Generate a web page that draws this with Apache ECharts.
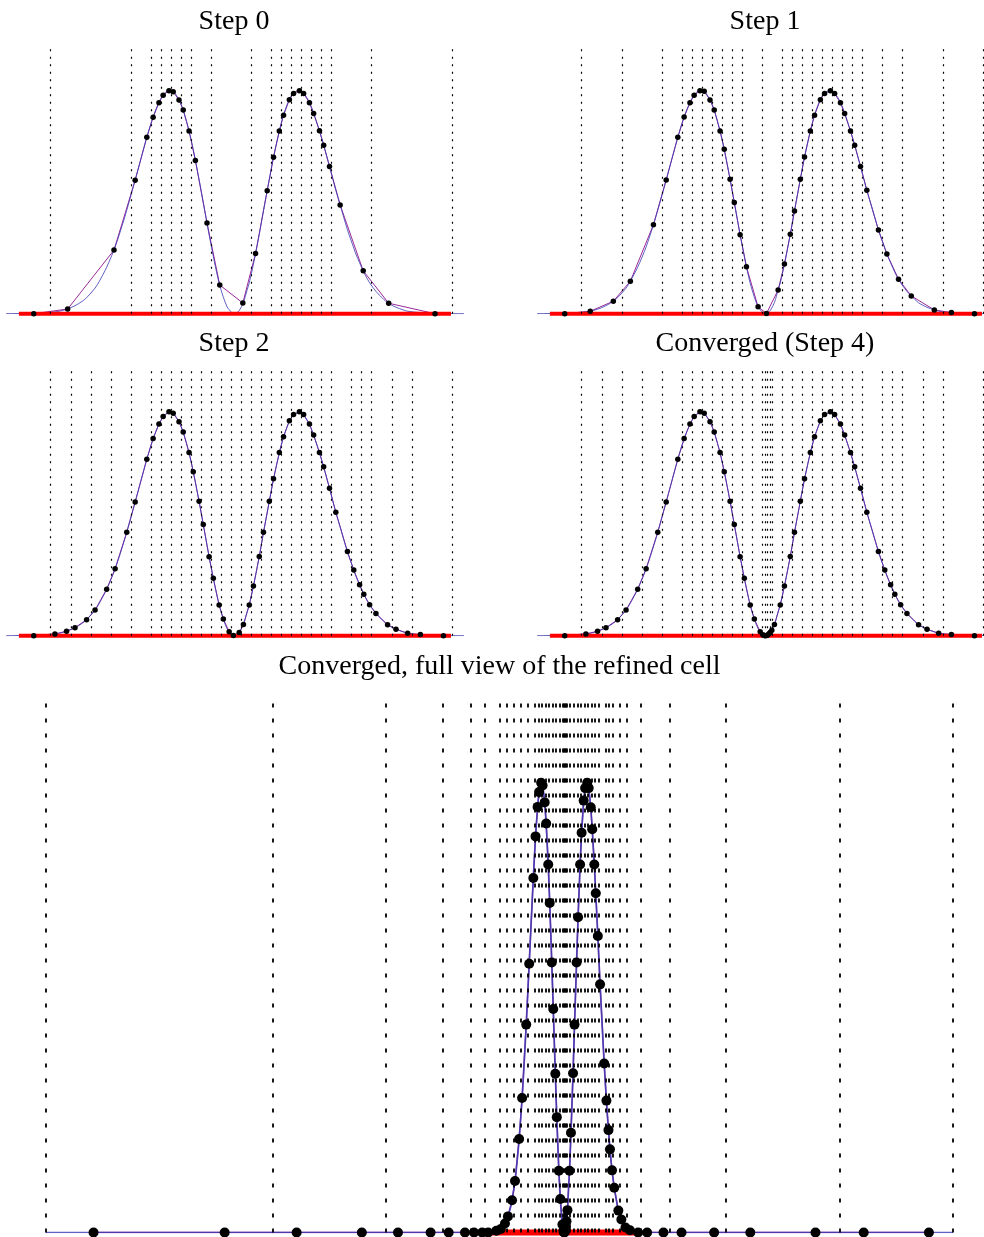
<!DOCTYPE html>
<html>
<head>
<meta charset="utf-8">
<script src="https://cdn.jsdelivr.net/npm/echarts@6/dist/echarts.min.js"></script>
<style>
html,body{margin:0;padding:0;background:#fff;}
#c{width:984px;height:1237px;}
</style>
</head>
<body>
<div id="c"></div>
<script>
// ---------------- data ----------------
// titles
const TITLES = ['Step 0', 'Step 1', 'Step 2', 'Converged (Step 4)', 'Converged, full view of the refined cell'];

// extent of the refined cell (red segment on the baseline)
const RED_SPAN = [-3.17, 39.9];

// "true" function (blue curve)
const TRUE_X = [-128, -8, -4.4, -3.15, -1.69, -0.85, 0.42, 0.85, 1.58, 2.42, 3.15, 3.58, 4.42, 4.85, 5.58, 6.42, 7.15, 7.58, 8.42, 9.58,
  10.21, 10.79, 11.21, 11.79, 12.21, 12.79, 13.21, 13.79, 14.21, 14.79, 15.21, 15.79, 16.21, 16.42, 16.79, 17.21, 17.58, 17.79,
  18.05, 18.3, 18.55, 18.79, 19.21, 19.58, 19.79, 20.21, 20.79, 21.21, 21.79, 22.21, 22.79, 23.21, 23.79, 24.21, 24.79, 25.21,
  25.79, 26.21, 26.79, 27.21, 27.79, 28.42, 28.85, 29.58, 30.21, 30.42, 30.79, 31.21, 31.58, 31.79, 32.42, 32.85, 33.58, 34.42,
  35.15, 35.58, 36.85, 39.15, 41.1, 48, 128];
const TRUE_Y = [0, 0, 0, 0.001, 0.002, 0.004, 0.008, 0.011, 0.020, 0.036, 0.056, 0.072, 0.115, 0.146, 0.209, 0.300, 0.400, 0.465, 0.601, 0.793,
  0.885, 0.950, 0.984, 1.004, 1.000, 0.961, 0.915, 0.822, 0.738, 0.604, 0.500, 0.355, 0.258, 0.211, 0.138, 0.074, 0.031, 0.018,
  0.005, 0.000, 0.004, 0.014, 0.050, 0.107, 0.138, 0.223, 0.356, 0.463, 0.604, 0.704, 0.822, 0.893, 0.964, 0.992, 1.004, 0.992,
  0.950, 0.901, 0.822, 0.758, 0.662, 0.555, 0.489, 0.377, 0.295, 0.268, 0.229, 0.186, 0.155, 0.139, 0.100, 0.080, 0.049, 0.029,
  0.017, 0.011, 0.005, 0.001, 0, 0, 0];

// Step 0
const S0_LINES = [0, 8, 10, 11, 12, 13, 14, 16, 20, 22, 23, 24, 25, 26, 27, 28, 32, 40];
const S0_X = [-1.69, 1.69, 6.31, 8.42, 9.58, 10.21, 10.79, 11.21, 11.79, 12.21, 12.79, 13.21, 13.79, 14.42, 15.58, 16.85, 19.15,
  20.42, 21.58, 22.21, 22.79, 23.21, 23.79, 24.21, 24.79, 25.21, 25.79, 26.21, 26.79, 27.21, 27.79, 28.85, 31.15, 33.69, 38.31];
const S0_Y = [0.0, 0.021, 0.286, 0.600, 0.793, 0.883, 0.948, 0.982, 1.002, 0.998, 0.960, 0.916, 0.821, 0.689, 0.408, 0.129, 0.048,
  0.271, 0.553, 0.703, 0.821, 0.892, 0.962, 0.990, 1.002, 0.990, 0.948, 0.900, 0.822, 0.757, 0.662, 0.489, 0.193, 0.047, 0.0];

// Step 1
const S1_LINES = [0, 4, 8, 10, 11, 12, 13, 14, 15, 16, 18, 20, 21, 22, 23, 24, 25, 26, 27, 28, 30, 32, 36, 40];
const S1_X = [-1.69, 0.85, 3.15, 4.85, 7.15, 8.42, 9.58, 10.21, 10.79, 11.21, 11.79, 12.21, 12.79, 13.21, 13.79, 14.21, 14.79,
  15.21, 15.79, 16.42, 17.58, 18.42, 19.58, 20.21, 20.79, 21.21, 21.79, 22.21, 22.79, 23.21, 23.79, 24.21, 24.79, 25.21, 25.79,
  26.21, 26.79, 27.21, 27.79, 28.42, 29.58, 30.42, 31.58, 32.85, 35.15, 36.85, 39.15];
const S1_Y = [0.0, 0.011, 0.056, 0.146, 0.400, 0.601, 0.793, 0.884, 0.948, 0.982, 1.002, 1.000, 0.961, 0.916, 0.821, 0.739, 0.604,
  0.500, 0.355, 0.211, 0.031, 0.001, 0.107, 0.223, 0.357, 0.462, 0.604, 0.704, 0.821, 0.892, 0.962, 0.990, 1.002, 0.990, 0.948,
  0.900, 0.821, 0.757, 0.662, 0.555, 0.376, 0.268, 0.155, 0.080, 0.017, 0.005, 0.0];

// Step 2
const S2_LINES = [0, 2, 4, 6, 8, 10, 11, 12, 13, 14, 15, 16, 17, 18, 19, 20, 21, 22, 23, 24, 25, 26, 27, 28, 30, 31, 32, 34, 36, 40];
const S2_X = [-1.69, 0.42, 1.58, 2.42, 3.58, 4.42, 5.58, 6.42, 7.58, 8.42, 9.58, 10.21, 10.79, 11.21, 11.79, 12.21, 12.79, 13.21,
  13.79, 14.21, 14.79, 15.21, 15.79, 16.21, 16.79, 17.21, 17.79, 18.21, 18.79, 19.21, 19.79, 20.21, 20.79, 21.21, 21.79, 22.21,
  22.79, 23.21, 23.79, 24.21, 24.79, 25.21, 25.79, 26.21, 26.79, 27.21, 27.79, 28.42, 29.58, 30.21, 30.79, 31.21, 31.79, 32.42,
  33.58, 34.42, 35.58, 36.85, 39.15];
const S2_Y = [0.0, 0.008, 0.020, 0.036, 0.072, 0.115, 0.209, 0.301, 0.465, 0.601, 0.793, 0.886, 0.952, 0.985, 1.006, 1.000, 0.962,
  0.915, 0.823, 0.737, 0.604, 0.500, 0.355, 0.258, 0.138, 0.075, 0.018, 0.001, 0.014, 0.050, 0.138, 0.223, 0.356, 0.465, 0.604,
  0.705, 0.823, 0.894, 0.966, 0.994, 1.006, 0.994, 0.951, 0.902, 0.823, 0.759, 0.663, 0.555, 0.378, 0.295, 0.229, 0.186, 0.139,
  0.100, 0.049, 0.029, 0.011, 0.005, 0.0];

// Converged (Step 4)
const S4_LINES = [0, 2, 4, 6, 8, 10, 11, 12, 13, 14, 15, 16, 17, 18, 18.25, 18.5, 18.75, 19, 20, 21, 22, 23, 24, 25, 26, 27, 28,
  30, 31, 32, 34, 36, 40];
const S4_X = [-1.69, 0.42, 1.58, 2.42, 3.58, 4.42, 5.58, 6.42, 7.58, 8.42, 9.58, 10.21, 10.79, 11.21, 11.79, 12.21, 12.79, 13.21,
  13.79, 14.21, 14.79, 15.21, 15.79, 16.21, 16.79, 17.21, 17.79, 18.05, 18.20, 18.30, 18.45, 18.55, 18.70, 18.80, 18.95, 19.21,
  19.79, 20.21, 20.79, 21.21, 21.79, 22.21, 22.79, 23.21, 23.79, 24.21, 24.79, 25.21, 25.79, 26.21, 26.79, 27.21, 27.79, 28.42,
  29.58, 30.21, 30.79, 31.21, 31.79, 32.42, 33.58, 34.42, 35.58, 36.85, 39.15];
const S4_Y = [0.0, 0.008, 0.020, 0.036, 0.072, 0.115, 0.209, 0.301, 0.465, 0.601, 0.793, 0.886, 0.952, 0.985, 1.006, 1.000, 0.962,
  0.915, 0.823, 0.737, 0.604, 0.500, 0.355, 0.258, 0.138, 0.075, 0.018, 0.004, 0.001, 0.000, 0.001, 0.004, 0.010, 0.015, 0.025,
  0.050, 0.138, 0.223, 0.356, 0.465, 0.604, 0.705, 0.823, 0.894, 0.966, 0.994, 1.006, 0.994, 0.951, 0.902, 0.823, 0.759, 0.663,
  0.555, 0.378, 0.295, 0.229, 0.186, 0.139, 0.100, 0.049, 0.029, 0.011, 0.005, 0.0];

// Full view: outer coarse cells (left / right of the zoomed window)
const FULL_LINES_LEFT = [-128, -64, -32, -16, -8, -4];
const FULL_LINES_RIGHT = [48, 64, 96, 128];
const FULL_LEFT_X = [-114.5, -77.5, -57.2, -38.8, -28.6, -19.4, -14.3, -9.7, -7.15, -4.85, -3.15, -0.85];
const FULL_LEFT_Y = [0, 0, 0, 0, 0, 0, 0, 0, 0, 0, 0, 0.004];
const FULL_RIGHT_X = [41.69, 46.31, 51.4, 60.6, 70.8, 89.2, 102.8, 121.2];
const FULL_RIGHT_Y = [0, 0, 0, 0, 0, 0, 0, 0];

// ---------------- build the chart ----------------
const zip = (xs, ys) => xs.map((x, i) => [x, ys[i]]);
const TRUE_PTS = zip(TRUE_X, TRUE_Y);

const FULL_LINES = FULL_LINES_LEFT.concat(S4_LINES, FULL_LINES_RIGHT);
const FULL_X = FULL_LEFT_X.concat(S4_X.slice(1), FULL_RIGHT_X);
const FULL_Y = FULL_LEFT_Y.concat(S4_Y.slice(1), FULL_RIGHT_Y);

const TOP_STYLE = {dot: 5.5, blueW: 1, purpleW: 1, redW: 4, gridW: 1.2, dash: [2, 5.5]};
const BIG_STYLE = {dot: 10, blueW: 1.7, purpleW: 1.4, redW: 6, gridW: 1.8, dash: [4, 11]};

// right-hand panels are cut by the page edge (window ends at x = 40.1)
const PANELS = [
  {left: 7.06, top: 46.7, width: 455.96, height: 267, xmin: -4.35, xmax: 41.1, lines: S0_LINES, x: S0_X, y: S0_Y, st: TOP_STYLE,
    tx: 234, ty: 21.5, title: TITLES[0]},
  {left: 538.06, top: 46.7, width: 445.94, height: 267, xmin: -4.35, xmax: 40.1, lines: S1_LINES, x: S1_X, y: S1_Y, st: TOP_STYLE,
    tx: 765, ty: 21.5, title: TITLES[1]},
  {left: 7.06, top: 368.7, width: 455.96, height: 267, xmin: -4.35, xmax: 41.1, lines: S2_LINES, x: S2_X, y: S2_Y, st: TOP_STYLE,
    tx: 234, ty: 343.2, title: TITLES[2]},
  {left: 538.06, top: 368.7, width: 445.94, height: 267, xmin: -4.35, xmax: 40.1, lines: S4_LINES, x: S4_X, y: S4_Y, st: TOP_STYLE,
    tx: 765, ty: 343.2, title: TITLES[3]},
  {left: 45.7, top: 696, width: 907.3, height: 536.5, xmin: -128, xmax: 128, lines: FULL_LINES, x: FULL_X, y: FULL_Y, st: BIG_STYLE,
    tx: 499.5, ty: 666.5, title: TITLES[4]}
];

const grid = [], xAxis = [], yAxis = [], series = [], graphic = [];
PANELS.forEach((p, i) => {
  grid.push({left: p.left, top: p.top, width: p.width, height: p.height, containLabel: false, show: false});
  xAxis.push({type: 'value', gridIndex: i, min: p.xmin, max: p.xmax, show: false});
  yAxis.push({type: 'value', gridIndex: i, min: 0, max: 1.2, show: false});
  const st = p.st;
  // vertical dotted cell boundaries
  series.push({
    type: 'line', xAxisIndex: i, yAxisIndex: i, data: [], silent: true, z: 1,
    markLine: {
      silent: true, symbol: ['none', 'none'], label: {show: false}, animation: false,
      emphasis: {disabled: true},
      lineStyle: {color: '#000', width: st.gridW, type: st.dash, opacity: 1},
      data: p.lines.map(v => ({xAxis: v}))
    }
  });
  // interpolant through the sample points
  series.push({
    type: 'line', xAxisIndex: i, yAxisIndex: i, data: zip(p.x, p.y), showSymbol: false, z: 2,
    lineStyle: {color: '#9a2898', width: st.purpleW}, silent: true, clip: true
  });
  // true function
  series.push({
    type: 'line', xAxisIndex: i, yAxisIndex: i, data: TRUE_PTS, showSymbol: false, smooth: 0.3, z: 3,
    lineStyle: {color: '#3a3ab4', width: st.blueW, opacity: 0.8}, silent: true, clip: true
  });
  // refined cell
  series.push({
    type: 'line', xAxisIndex: i, yAxisIndex: i, data: [[RED_SPAN[0], 0], [RED_SPAN[1], 0]], showSymbol: false, z: 4,
    lineStyle: {color: '#ff0000', width: st.redW}, silent: true, clip: false
  });
  // sample points
  series.push({
    type: 'scatter', xAxisIndex: i, yAxisIndex: i, data: zip(p.x, p.y), symbol: 'circle', symbolSize: st.dot, z: 5,
    itemStyle: {color: '#000', opacity: 1}, silent: true, clip: false
  });
  graphic.push({
    type: 'text', x: p.tx, y: p.ty, silent: true,
    style: {text: p.title, fill: '#000', font: '28px "Liberation Serif"', fontSize: 28, fontFamily: 'Liberation Serif',
      align: 'center', verticalAlign: 'middle', textAlign: 'center', textVerticalAlign: 'middle'}
  });
});

const chart = echarts.init(document.getElementById('c'), null, {renderer: 'canvas', width: 984, height: 1237});
chart.setOption({animation: false, backgroundColor: '#fff', grid, xAxis, yAxis, series, graphic});
</script>
</body>
</html>
